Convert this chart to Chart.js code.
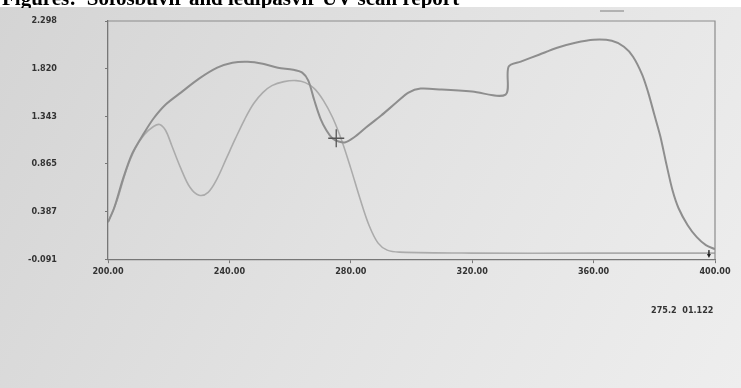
<!DOCTYPE html>
<html>
<head>
<meta charset="utf-8">
<script src="https://cdn.jsdelivr.net/npm/chart.js@4.4.1/dist/chart.umd.min.js"></script>
<style>
  html, body { margin: 0; padding: 0; background: #e2e2e2; }
  #wrap { width: 741px; height: 388px; }
</style>
</head>
<body>
<div id="wrap"><canvas id="uvChart" width="741" height="388"></canvas></div>
<script>
// wavelength (nm) / absorbance
var scanX1 = [200, 202, 205, 208, 212, 215, 219, 224, 230, 236, 241, 246, 251, 256, 261, 264, 266, 268, 270, 272, 274, 276, 278, 281, 285, 290, 295, 299, 303, 310, 320, 331, 332, 336, 342, 348, 354, 360, 366, 370, 373, 376, 378, 380, 382, 384, 386, 388, 391, 394, 397, 400];
var scanY1 = [0.28, 0.42, 0.72, 0.97, 1.18, 1.32, 1.46, 1.58, 1.72, 1.83, 1.88, 1.89, 1.87, 1.83, 1.81, 1.78, 1.70, 1.50, 1.32, 1.20, 1.12, 1.09, 1.08, 1.13, 1.23, 1.35, 1.48, 1.58, 1.62, 1.61, 1.59, 1.56, 1.84, 1.89, 1.96, 2.03, 2.08, 2.11, 2.10, 2.04, 1.94, 1.76, 1.58, 1.36, 1.14, 0.86, 0.60, 0.42, 0.25, 0.13, 0.05, 0.01];

var scanX2 = [200, 203, 206, 209, 212, 215, 217, 219, 221, 224, 227, 230, 233, 236, 239, 242, 245, 248, 251, 254, 258, 262, 265, 268, 271, 274, 277, 280, 283, 286, 289, 292, 296, 320, 360, 400];
var scanY2 = [0.28, 0.50, 0.80, 1.02, 1.16, 1.24, 1.26, 1.20, 1.05, 0.82, 0.63, 0.55, 0.58, 0.72, 0.92, 1.12, 1.31, 1.47, 1.58, 1.65, 1.69, 1.70, 1.68, 1.62, 1.50, 1.33, 1.10, 0.82, 0.52, 0.25, 0.07, 0.00, -0.02, -0.03, -0.03, -0.03];

var yTicks = [-0.091, 0.387, 0.865, 1.343, 1.820, 2.298];
var yTickLabels = ['-0.091', '0.387', '0.865', '1.343', '1.820', '2.298'];
var cursorX = 275.2;
var cursorY = 1.122;
var readout = '275.2  01.122';
var title = 'Figures:  Sofosbuvir and ledipasvir UV scan report';

function toPoints(xs, ys) {
    var pts = [];
    for (var i = 0; i < xs.length; i++) pts.push({x: xs[i], y: ys[i]});
    return pts;
}

var labelFont = {family: "'Liberation Sans Narrow', 'DejaVu Sans Condensed', sans-serif", size: 9, weight: 'bold'};

// photo background, plot frame, cursor cross and readout
var screenPlugin = {
    id: 'screen',
    beforeDraw: function(chart) {
        var c = chart.ctx;
        var g = c.createLinearGradient(0, 0, chart.width, chart.height);
        g.addColorStop(0, '#d4d4d4');
        g.addColorStop(0.5, '#e2e2e2');
        g.addColorStop(1, '#eeeeee');
        c.save();
        c.fillStyle = g;
        c.fillRect(0, 0, chart.width, chart.height);
        c.fillStyle = '#ffffff';
        c.fillRect(0, 0, chart.width, 7);
        c.restore();
    },
    afterDraw: function(chart) {
        var c = chart.ctx;
        var a = chart.chartArea;
        var xs = chart.scales.x, ys = chart.scales.y;
        c.save();
        c.strokeStyle = '#8c8c8c';
        c.lineWidth = 1.2;
        c.beginPath();
        c.moveTo(a.left, a.top);
        c.lineTo(a.right, a.top);
        c.lineTo(a.right, a.bottom);
        c.stroke();

        // cursor
        var px = xs.getPixelForValue(cursorX), py = ys.getPixelForValue(cursorY);
        c.strokeStyle = '#555';
        c.lineWidth = 1.3;
        c.beginPath();
        c.moveTo(px - 8, py); c.lineTo(px + 8, py);
        c.moveTo(px, py - 9); c.lineTo(px, py + 9);
        c.stroke();

        // end marker
        var ex = xs.getPixelForValue(398), ey = ys.getPixelForValue(-0.03);
        c.fillStyle = '#222';
        c.beginPath();
        c.moveTo(ex - 2, ey + 1); c.lineTo(ex + 2, ey + 1); c.lineTo(ex, ey + 5);
        c.closePath(); c.fill();
        c.fillRect(ex - 0.7, ey - 3, 1.4, 4);

        // readout
        c.fillStyle = '#333';
        c.font = "bold 9px 'Liberation Sans Narrow', 'DejaVu Sans Condensed', sans-serif";
        c.textAlign = 'left';
        c.textBaseline = 'middle';
        c.fillText(readout, 651, 311);

        // small legend dash top right
        c.strokeStyle = '#a0a0a0';
        c.lineWidth = 1.5;
        c.beginPath();
        c.moveTo(600, 11); c.lineTo(624, 11);
        c.stroke();

        // cropped title
        c.beginPath();
        c.rect(0, 0, chart.width, 8);
        c.clip();
        c.fillStyle = '#000';
        c.font = "bold 21px 'Liberation Serif', 'DejaVu Serif', serif";
        c.textBaseline = 'alphabetic';
        c.fillText(title, 2, 5);
        c.restore();
    }
};

new Chart(document.getElementById('uvChart'), {
    type: 'line',
    data: {
        datasets: [{
            label: 'scan 1',
            data: toPoints(scanX1, scanY1),
            borderColor: '#8e8e8e',
            borderWidth: 2,
            pointRadius: 0,
            tension: 0.3,
            fill: false
        }, {
            label: 'scan 2',
            data: toPoints(scanX2, scanY2),
            borderColor: '#ababab',
            borderWidth: 1.6,
            pointRadius: 0,
            tension: 0.35,
            fill: false
        }]
    },
    options: {
        responsive: false,
        animation: false,
        maintainAspectRatio: false,
        layout: {padding: {left: 0, top: 21, right: 26, bottom: 108}},
        plugins: {legend: {display: false}, tooltip: {enabled: false}},
        scales: {
            x: {
                type: 'linear',
                min: 200,
                max: 400,
                ticks: {
                    stepSize: 40,
                    color: '#333',
                    font: labelFont,
                    padding: 3,
                    maxRotation: 0,
                    callback: function(v) { return v.toFixed(2); }
                },
                grid: {drawOnChartArea: false, drawTicks: true, tickLength: 4, color: '#777'},
                border: {color: '#777', width: 1.3}
            },
            y: {
                type: 'linear',
                min: -0.091,
                max: 2.298,
                afterBuildTicks: function(s) {
                    s.ticks = yTicks.map(function(v) { return {value: v}; });
                },
                ticks: {
                    color: '#333',
                    font: labelFont,
                    padding: 48,
                    callback: function(v, i) { return yTickLabels[i]; }
                },
                grid: {drawOnChartArea: false, drawTicks: true, tickLength: 3, color: '#777'},
                border: {color: '#777', width: 1.3},
                afterFit: function(s) {
                    s.width = 108;
                    s.paddingTop = 0;
                    s.paddingBottom = 0;
                }
            }
        }
    },
    plugins: [screenPlugin]
});
</script>
</body>
</html>
